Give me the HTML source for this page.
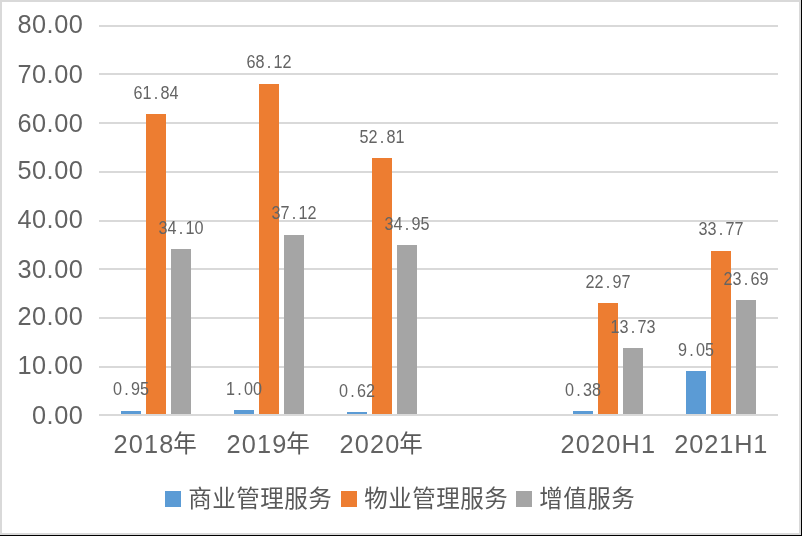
<!DOCTYPE html>
<html lang="zh"><head><meta charset="utf-8"><title>chart</title>
<style>
html,body{margin:0;padding:0;background:#fff;font-family:"Liberation Sans",sans-serif;}
body{width:802px;height:536px;overflow:hidden;position:relative;font-family:"Liberation Sans",sans-serif;color:#595959;}
#chart{position:absolute;left:0;top:0;width:802px;height:536px;background:#fff;overflow:hidden;}
.frame{position:absolute;left:0;top:0;width:797px;height:531px;border:2px solid #d9d9d9;border-right-width:2px;}
.bk{position:absolute;background:#000;}
.grid{position:absolute;height:2px;background:#d9d9d9;}
.bar{position:absolute;}
.ylab{color:#626262;position:absolute;left:0;width:83.3px;text-align:right;font-size:25.3px;line-height:30px;height:30px;letter-spacing:0.5px;white-space:nowrap;}
.xlab{color:#626262;position:absolute;font-size:25.3px;line-height:30px;height:30px;letter-spacing:1.2px;white-space:nowrap;}
.dl{color:#646464;position:absolute;font-size:18px;line-height:20px;height:20px;width:100px;text-align:center;white-space:nowrap;transform:scaleX(0.899);transform-origin:50% 50%;}
.dl i{font-style:normal;display:inline-block;width:10.01px;text-align:center;}
#txt{position:absolute;left:0;top:0;width:802px;height:536px;will-change:transform;}
.cjk{position:absolute;overflow:visible;}
.cjk text{font-family:"Liberation Sans","Noto Sans CJK SC",sans-serif;font-size:980px;letter-spacing:20px;fill:#595959;}
.sw{position:absolute;width:16px;height:16px;}
</style></head><body><div id="chart">

<div class="frame"></div>
<div class="bk" style="left:801px;top:0;width:1px;height:536px"></div>
<div class="bk" style="left:0;top:535px;width:802px;height:1px"></div>
<div class="grid" style="left:99px;top:414px;width:679px"></div>
<div class="grid" style="left:99px;top:366px;width:679px"></div>
<div class="grid" style="left:99px;top:317px;width:679px"></div>
<div class="grid" style="left:99px;top:268px;width:679px"></div>
<div class="grid" style="left:99px;top:220px;width:679px"></div>
<div class="grid" style="left:99px;top:171px;width:679px"></div>
<div class="grid" style="left:99px;top:122px;width:679px"></div>
<div class="grid" style="left:99px;top:73px;width:679px"></div>
<div class="grid" style="left:99px;top:25px;width:679px"></div>
<div class="bar" style="left:121px;top:411.00px;width:20px;height:3.00px;background:#5b9bd5"></div>
<div class="bar" style="left:146px;top:114.30px;width:20px;height:299.70px;background:#ed7d31"></div>
<div class="bar" style="left:171px;top:249.19px;width:20px;height:164.81px;background:#a5a5a5"></div>
<div class="bar" style="left:234px;top:410.14px;width:20px;height:3.86px;background:#5b9bd5"></div>
<div class="bar" style="left:259px;top:83.77px;width:20px;height:330.23px;background:#ed7d31"></div>
<div class="bar" style="left:284px;top:234.50px;width:20px;height:179.50px;background:#a5a5a5"></div>
<div class="bar" style="left:347px;top:411.99px;width:20px;height:2.01px;background:#5b9bd5"></div>
<div class="bar" style="left:372px;top:158.21px;width:20px;height:255.79px;background:#ed7d31"></div>
<div class="bar" style="left:397px;top:245.06px;width:20px;height:168.94px;background:#a5a5a5"></div>
<div class="bar" style="left:573px;top:411.00px;width:20px;height:3.00px;background:#5b9bd5"></div>
<div class="bar" style="left:598px;top:303.31px;width:20px;height:110.69px;background:#ed7d31"></div>
<div class="bar" style="left:623px;top:348.24px;width:20px;height:65.76px;background:#a5a5a5"></div>
<div class="bar" style="left:686px;top:370.99px;width:20px;height:43.01px;background:#5b9bd5"></div>
<div class="bar" style="left:711px;top:250.79px;width:20px;height:163.21px;background:#ed7d31"></div>
<div class="bar" style="left:736px;top:299.81px;width:20px;height:114.19px;background:#a5a5a5"></div>
<div class="sw" style="left:165px;top:491px;background:#5b9bd5"></div>
<div class="sw" style="left:340.5px;top:491px;background:#ed7d31"></div>
<div class="sw" style="left:516px;top:491px;background:#a5a5a5"></div>
<div id="txt">
<div class="ylab" style="top:9px">80.00</div>
<div class="ylab" style="top:59px">70.00</div>
<div class="ylab" style="top:108px">60.00</div>
<div class="ylab" style="top:155px">50.00</div>
<div class="ylab" style="top:204px">40.00</div>
<div class="ylab" style="top:254px">30.00</div>
<div class="ylab" style="top:301px">20.00</div>
<div class="ylab" style="top:350px">10.00</div>
<div class="ylab" style="top:400px">0.00</div>
<div class="dl" style="left:81.00px;top:379.08px">0<i>.</i>95</div>
<div class="dl" style="left:106.00px;top:83.00px">61<i>.</i>84</div>
<div class="dl" style="left:131.00px;top:217.89px">34<i>.</i>10</div>
<div class="dl" style="left:194.00px;top:378.84px">1<i>.</i>00</div>
<div class="dl" style="left:219.00px;top:52.47px">68<i>.</i>12</div>
<div class="dl" style="left:244.00px;top:203.20px">37<i>.</i>12</div>
<div class="dl" style="left:307.00px;top:380.69px">0<i>.</i>62</div>
<div class="dl" style="left:332.00px;top:126.91px">52<i>.</i>81</div>
<div class="dl" style="left:357.00px;top:213.76px">34<i>.</i>95</div>
<div class="dl" style="left:533.00px;top:379.70px">0<i>.</i>38</div>
<div class="dl" style="left:558.00px;top:272.01px">22<i>.</i>97</div>
<div class="dl" style="left:583.00px;top:316.94px">13<i>.</i>73</div>
<div class="dl" style="left:646.00px;top:339.69px">9<i>.</i>05</div>
<div class="dl" style="left:671.00px;top:219.49px">33<i>.</i>77</div>
<div class="dl" style="left:696.00px;top:268.51px">23<i>.</i>69</div>
<div class="xlab" style="left:113.50px;top:429px">2018</div>
<svg class="cjk" style="left:173.10px;top:431.08px" width="24.00" height="24.00" viewBox="0 -880 1000 1000" role="img" aria-label="年"><text x="10" y="-7.6">年</text></svg>
<div class="xlab" style="left:226.50px;top:429px">2019</div>
<svg class="cjk" style="left:286.10px;top:431.08px" width="24.00" height="24.00" viewBox="0 -880 1000 1000" role="img" aria-label="年"><text x="10" y="-7.6">年</text></svg>
<div class="xlab" style="left:339.50px;top:429px">2020</div>
<svg class="cjk" style="left:399.10px;top:431.08px" width="24.00" height="24.00" viewBox="0 -880 1000 1000" role="img" aria-label="年"><text x="10" y="-7.6">年</text></svg>
<div class="xlab" style="left:560.50px;top:429px">2020H1</div>
<div class="xlab" style="left:674.30px;top:429px;letter-spacing:0.9px">2021H1</div>
<svg class="cjk" style="left:188.10px;top:485.58px" width="144.00" height="24.00" viewBox="0 -880 6000 1000" role="img" aria-label="商业管理服务"><text x="10" y="-7.6">商业管理服务</text></svg>
<svg class="cjk" style="left:363.60px;top:485.58px" width="144.00" height="24.00" viewBox="0 -880 6000 1000" role="img" aria-label="物业管理服务"><text x="10" y="-7.6">物业管理服务</text></svg>
<svg class="cjk" style="left:539.10px;top:485.58px" width="96.00" height="24.00" viewBox="0 -880 4000 1000" role="img" aria-label="增值服务"><text x="10" y="-7.6">增值服务</text></svg>
</div>
</div></body></html>
